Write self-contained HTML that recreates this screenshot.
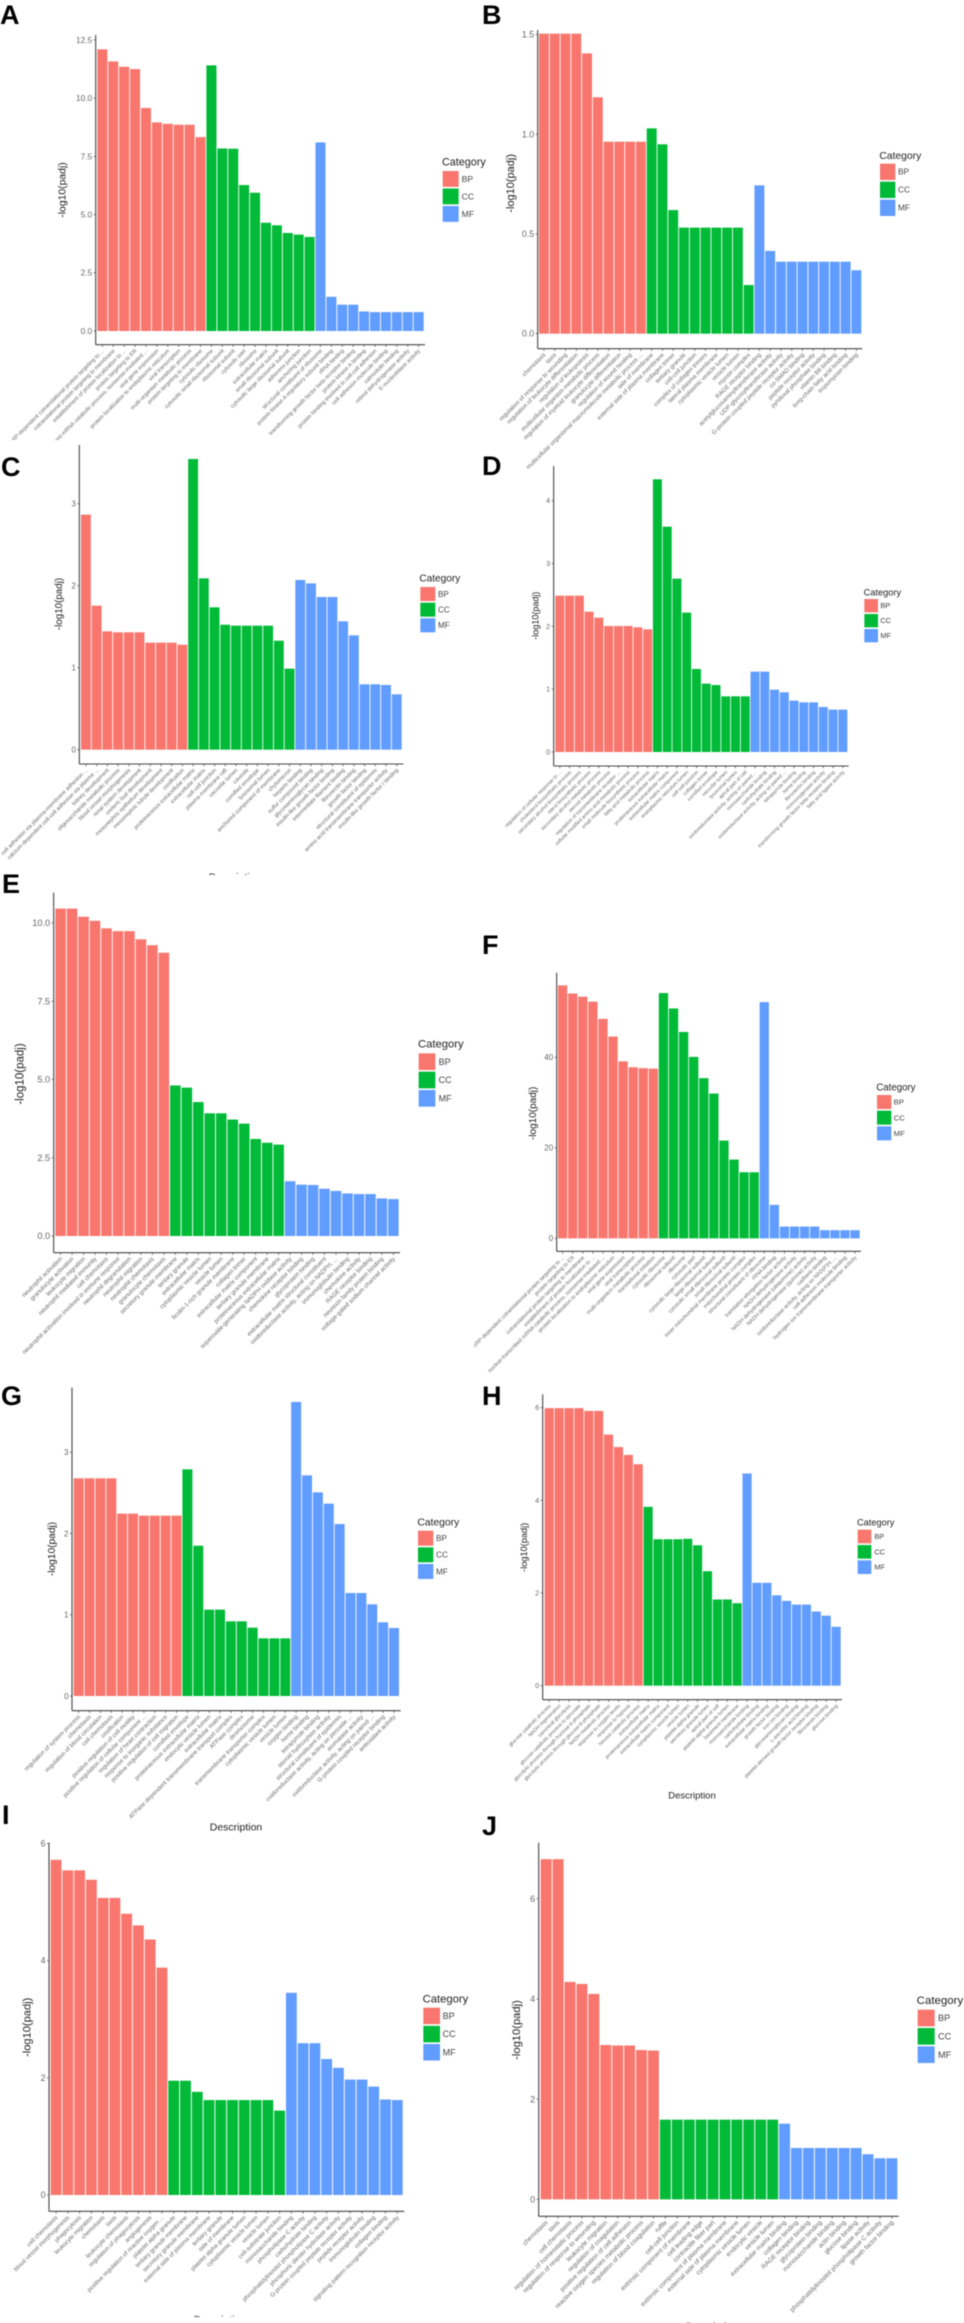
<!DOCTYPE html>
<html lang="en">
<head>
<meta charset="utf-8">
<title>GO enrichment bar charts A–J</title>
<style>
html,body{margin:0;padding:0;background:#fff;}
body{width:964px;height:2323px;overflow:hidden;}
#figure{display:block;filter:blur(0.45px);font-family:"Liberation Sans",sans-serif;}
</style>
</head>
<body>
<svg id="figure" xmlns="http://www.w3.org/2000/svg" width="964" height="2323" viewBox="0 0 964 2323"></svg>
<script>
const seriesNames = ["BP", "CC", "MF"];
const seriesColors = ["#F8766D", "#00BA38", "#619CFF"];

const labelsA = ["SRP-dependent cotranslational protein targeting to ...","cotranslational protein targeting to membrane","establishment of protein localization to ...","protein targeting to ER","nuclear-transcribed mRNA catabolic process, nonsense-mediated ...","viral gene expression","protein localization to endoplasmic reticulum","viral transcription","multi-organism metabolic process","protein targeting to membrane","cytosolic ribosome","cytosolic small ribosomal subunit","ribosomal subunit","cytosolic part","ribosome","extracellular matrix","small ribosomal subunit","cytosolic large ribosomal subunit","adherens junction","anchoring junction","structural constituent of ribosome","protein kinase A regulatory subunit binding","rRNA binding","transforming growth factor beta receptor binding","protein kinase A binding","protein binding involved in cell-cell adhesion","cell adhesion molecule binding","calmodulin binding","retinol dehydrogenase activity","5'-nucleotidase activity"];
const bpA = [12.1,11.58,11.35,11.25,9.58,8.96,8.9,8.86,8.86,8.33];
const ccA = [11.41,7.84,7.83,6.27,5.94,4.65,4.54,4.21,4.14,4.04];
const mfA = [8.1,1.47,1.13,1.13,0.84,0.81,0.81,0.81,0.81,0.81];
const ticksA = ["0.0","2.5","5.0","7.5","10.0","12.5"];

const labelsB = ["chemotaxis","taxis","regulation of response to wounding","regulation of leukocyte differentiation","regulation of leukopoiesis","multicellular organism metabolic process","regulation of myeloid leukocyte differentiation","granulocyte differentiation","regulation of wound healing","multicellular organismal macromolecule metabolic process ...","side of membrane","external side of plasma membrane","collagen trimer","tertiary granule","cell-cell junction","complex of collagen trimers","lateral plasma membrane","cytoplasmic vesicle lumen","vesicle lumen","myosin complex","RAGE receptor binding","acetylglucosaminyltransferase activity","UDP-glycosyltransferase activity","G-protein coupled peptide receptor activity","co-SMAD binding","peptide receptor activity","pyridoxal phosphate binding","vitamin B6 binding","long-chain fatty acid binding","tropomyosin binding"];
const bpB = [1.505,1.505,1.505,1.505,1.406,1.186,0.963,0.963,0.963,0.963];
const ccB = [1.03,0.95,0.62,0.532,0.532,0.532,0.532,0.532,0.532,0.244];
const mfB = [0.744,0.415,0.361,0.361,0.361,0.361,0.361,0.361,0.361,0.318];
const ticksB = ["0.0","0.5","1.0","1.5"];

const labelsC = ["cell adhesion via plasma-membrane adhesion ...","calcium-dependent cell-cell adhesion via plasma ...","kidney development","oligosaccharide metabolic process","blood vessel morphogenesis","renal system development","ureteric bud development","mesonephric epithelium development","mesonephric tubule development","ossification","proteinaceous extracellular matrix","extracellular matrix","cell-cell junction","plasma membrane raft","vacuolar lumen","caveola","cornified envelope","lysosomal lumen","anchored component of membrane","chylomicron","heparin binding","sulfur compound binding","glycosaminoglycan binding","insulin-like growth factor binding","intermediate filament binding","fibronectin binding","growth factor binding","structural constituent of epidermis","amino acid transmembrane transporter activity","insulin-like growth factor I binding"];
const bpC = [2.866,1.756,1.443,1.431,1.431,1.431,1.305,1.305,1.305,1.28];
const ccC = [3.545,2.089,1.736,1.524,1.512,1.512,1.512,1.512,1.329,0.988];
const mfC = [2.069,2.028,1.862,1.862,1.565,1.394,0.797,0.797,0.789,0.675];
const ticksC = ["0","1","2","3"];

const labelsD = ["regulation of cellular response to ...","cholesterol biosynthetic process","secondary alcohol biosynthetic process","sterol biosynthetic process","secondary alcohol metabolic process","steroid metabolic process","regulation of transmembrane receptor ...","cellular modified amino acid metabolic process","small molecule biosynthetic process","fatty acid metabolic process","extracellular matrix","proteinaceous extracellular matrix","extracellular matrix component","endoplasmic reticulum lumen","cell-cell junction","collagen trimer","cornified envelope","vacuolar lumen","lysosomal lumen","apical part of cell","oxidoreductase activity, acting on paired ...","monosaccharide binding","carbohydrate binding","oxidoreductase activity, acting on paired ...","tetrapyrrole binding","heme binding","fibronectin binding","monooxygenase activity","transforming growth factor beta receptor binding","fatty acid ligase activity"];
const bpD = [2.488,2.488,2.488,2.233,2.138,2.005,2.005,2.005,1.984,1.952];
const ccD = [4.34,3.586,2.759,2.218,1.321,1.088,1.066,0.886,0.886,0.886];
const mfD = [1.279,1.279,0.992,0.95,0.817,0.79,0.79,0.716,0.674,0.674];
const ticksD = ["0","1","2","3","4"];

const labelsE = ["neutrophil activation","granulocyte activation","leukocyte migration","neutrophil mediated immunity","cell chemotaxis","neutrophil activation involved in immune response","neutrophil degranulation","neutrophil migration","neutrophil chemotaxis","granulocyte chemotaxis","secretory granule membrane","tertiary granule","extracellular matrix","cytoplasmic vesicle lumen","vesicle lumen","ficolin-1-rich granule membrane","collagen trimer","extracellular matrix component","tertiary granule membrane","proteinaceous extracellular matrix","superoxide-generating NADPH oxidase activity","chemokine receptor binding","glycoprotein binding","extracellular matrix structural constituent","oxidoreductase activity, acting on NADPH, ...","immunoglobulin binding","chemokine activity","RAGE receptor binding","neurexin family protein binding","voltage-gated sodium channel activity"];
const bpE = [10.46,10.46,10.2,10.07,9.83,9.74,9.74,9.48,9.29,9.05];
const ccE = [4.81,4.74,4.28,3.92,3.92,3.72,3.59,3.1,2.98,2.92];
const mfE = [1.75,1.64,1.63,1.51,1.44,1.36,1.34,1.34,1.2,1.18];
const ticksE = ["0.0","2.5","5.0","7.5","10.0"];

const labelsF = ["SRP-dependent cotranslational protein targeting to ...","protein targeting to ER","cotranslational protein targeting to membrane","establishment of protein localization to ...","nuclear-transcribed mRNA catabolic process, nonsense-mediated ...","protein localization to endoplasmic reticulum","viral gene expression","viral transcription","multi-organism metabolic process","translational initiation","cytosolic ribosome","ribosomal subunit","ribosome","cytosolic part","cytosolic large ribosomal subunit","large ribosomal subunit","cytosolic small ribosomal subunit","small ribosomal subunit","inner mitochondrial membrane protein complex","mitochondrial protein complex","structural constituent of ribosome","rRNA binding","translation elongation factor activity","NADH dehydrogenase activity","NADH dehydrogenase (ubiquinone) activity","NADH dehydrogenase (quinone) activity","cadherin binding","oxidoreductase activity, acting on NAD(P)H, ...","cell adhesion molecule binding","hydrogen ion transmembrane transporter activity"];
const bpF = [55.9,54.1,53.4,52.3,48.5,44.6,39.1,37.8,37.6,37.5];
const ccF = [54.2,50.8,45.6,40.1,35.4,32,21.6,17.4,14.6,14.6];
const mfF = [52.2,7.4,2.6,2.6,2.6,2.6,1.8,1.8,1.8,1.8];
const ticksF = ["0","20","40"];

const labelsG = ["regulation of system process","chemotaxis","regulation of blood circulation","cell chemotaxis","ossification","positive regulation of cell motility","positive regulation of cellular component ...","regulation of heart contraction","response to inorganic substance","positive regulation of cell migration","cornified envelope","proteinaceous extracellular matrix","endocytic vesicle lumen","extracellular matrix","ATPase dependent transmembrane transport complex","ATPase complex","desmosome","transmembrane transporter complex","cytoplasmic vesicle lumen","vesicle lumen","oxygen binding","heme binding","tetrapyrrole binding","steroid hydroxylase activity","structural constituent of epidermis","oxidoreductase activity, acting on peroxide ...","aromatase activity","oxidoreductase activity, acting on paired ...","G-protein coupled receptor binding","antioxidant activity"];
const bpG = [2.68,2.68,2.68,2.68,2.245,2.245,2.22,2.22,2.22,2.22];
const ccG = [2.79,1.85,1.063,1.063,0.919,0.919,0.841,0.71,0.71,0.71];
const mfG = [3.62,2.716,2.507,2.368,2.117,1.268,1.268,1.128,0.907,0.837];
const ticksG = ["0","1","2","3"];

const labelsH = ["glucose catabolic process","NADH regeneration","canonical glycolysis","glucose catabolic process to pyruvate","glycolytic process through fructose-6-phosphate","glycolytic process through glucose-6-phosphate","NADH metabolic process","response to oxygen levels","response to hypoxia","hexose catabolic process","extracellular matrix","proteinaceous extracellular matrix","extracellular matrix component","cytoplasmic vesicle lumen","vesicle lumen","platelet alpha granule","secretory granule lumen","apical part of cell","platelet alpha granule lumen","basement membrane","monosaccharide binding","carbohydrate binding","extracellular matrix binding","growth factor binding","iron ion binding","glycosaminoglycan binding","L-ascorbic acid binding","platelet-derived growth factor receptor binding","fibronectin binding","glucose binding"];
const bpH = [5.99,5.99,5.99,5.99,5.93,5.93,5.42,5.15,4.98,4.78];
const ccH = [3.86,3.16,3.16,3.16,3.17,3.03,2.47,1.86,1.86,1.78];
const mfH = [4.58,2.22,2.22,1.95,1.83,1.75,1.75,1.6,1.51,1.27];
const ticksH = ["0","2","4","6"];

const labelsI = ["cell chemotaxis","blood vessel morphogenesis","phagocytosis","leukocyte migration","chemotaxis","taxis","leukocyte chemotaxis","regulation of phagocytosis","angiogenesis","positive regulation of reactive oxygen ...","platelet alpha granule","tertiary granule membrane","secretory granule membrane","external side of plasma membrane","tertiary granule","side of membrane","platelet alpha granule lumen","cytoplasmic vesicle lumen","vesicle lumen","cell-substrate junction","monosaccharide binding","phospholipase C activity","carbohydrate binding","phosphatidylinositol phospholipase C activity","phosphoric diester hydrolase activity","G-protein coupled peptide receptor activity","peptide receptor activity","immunoglobulin binding","collagen binding","signaling pattern recognition receptor activity"];
const bpI = [5.72,5.54,5.54,5.38,5.07,5.07,4.8,4.6,4.36,3.88];
const ccI = [1.95,1.95,1.76,1.62,1.62,1.62,1.62,1.62,1.62,1.44];
const mfI = [3.45,2.59,2.59,2.32,2.17,1.97,1.97,1.85,1.63,1.62];
const ticksI = ["0","2","4","6"];

const labelsJ = ["chemotaxis","taxis","cell chemotaxis","regulation of homeostatic process","regulation of response to wounding","leukocyte migration","regulation of coagulation","positive regulation of cell adhesion","reactive oxygen species metabolic process","regulation of blood coagulation","ruffle","cell-cell junction","extrinsic component of membrane","cell leading edge","contractile fiber part","extrinsic component of plasma membrane","external side of plasma membrane","cytoplasmic vesicle lumen","endocytic vesicle","vesicle lumen","extracellular matrix binding","collagen binding","RAGE receptor binding","glycoprotein binding","monosaccharide binding","actin binding","glucose binding","lipase activity","phosphatidylinositol phospholipase C activity","growth factor binding"];
const bpJ = [6.79,6.79,4.34,4.3,4.1,3.08,3.07,3.07,2.98,2.97];
const ccJ = [1.59,1.59,1.59,1.59,1.59,1.59,1.59,1.59,1.59,1.59];
const mfJ = [1.51,1.025,1.025,1.025,1.025,1.025,1.025,0.9,0.82,0.82];
const ticksJ = ["0","2","4","6"];

/* Layout of each panel. Numbers other than origin/clip are measured at 3x scale from the panel origin. */
const layouts = [
 {id:"A",labels:labelsA,bp:bpA,cc:ccA,mf:mfA,ticks:ticksA,ox:0,oy:0,clip:[12,0,480,440],axX:287,axT:105,axB:1034,axR:1275,zero:993,unit:69.84,barL:292,barR:1271,tx:1326,ty:497,sx:1328,sw:48,sy:513,step:52.5,lx:1385,ytX:185,ytY:570,fs:10.4,xfs:5.6,letter:[0,24]},
 {id:"B",labels:labelsB,bp:bpB,cc:ccB,mf:mfB,ticks:ticksB,ox:482,oy:0,clip:[482,0,482,470],axX:167,axT:90,axB:1046,axR:1141,zero:1001,unit:598,barL:171,barR:1138,tx:1192,ty:477,sx:1194,sw:46,sy:491,step:54,lx:1248,ytX:85,ytY:550,fs:11,xfs:6,letter:[482,24]},
 {id:"C",labels:labelsC,bp:bpC,cc:ccC,mf:mfC,ticks:ticksC,ox:0,oy:440,clip:[0,443,482,432],axX:238,axT:15,axB:972,axR:1210,zero:929,unit:246,barL:243,barR:1205,tx:1258,ty:425,sx:1261,sw:45,sy:441,step:47,lx:1314,ytX:175,ytY:492,fs:9.8,xfs:5.6,letter:[1,476],xt:[705,1322,10.5]},
 {id:"D",labels:labelsD,bp:bpD,cc:ccD,mf:mfD,ticks:ticksD,ox:482,oy:440,clip:[482,462,482,440],axX:215,axT:78,axB:978,axR:1100,zero:936,unit:188.5,barL:220,barR:1096,tx:1145,ty:466,sx:1147,sw:41,sy:477,step:45,lx:1195,ytX:160,ytY:527,fs:9,xfs:5,letter:[482,475]},
 {id:"E",labels:labelsE,bp:bpE,cc:ccE,mf:mfE,ticks:ticksE,ox:0,oy:870,clip:[0,872,476,490],axX:161,axT:68,axB:1148,axR:1200,zero:1098,unit:93.9,barL:166,barR:1196,tx:1254,ty:533,sx:1256,sw:50,sy:550,step:55,lx:1316,ytX:58,ytY:612,fs:11.5,xfs:6.1,letter:[2,893]},
 {id:"F",labels:labelsF,bp:bpF,cc:ccF,mf:mfF,ticks:ticksF,ox:482,oy:870,clip:[474,960,490,416],axX:224,axT:308,axB:1144,axR:1137,zero:1105,unit:13.575,barL:228,barR:1133,tx:1183,ty:661,sx:1185,sw:43,sy:675,step:47,lx:1235,ytX:152,ytY:730,fs:10,xfs:5.4,letter:[482,954]},
 {id:"G",labels:labelsG,bp:bpG,cc:ccG,mf:mfG,ticks:ticksG,ox:0,oy:1360,clip:[0,1370,482,465],axX:216,axT:83,axB:1052,axR:1202,zero:1008,unit:243.7,barL:221,barR:1197,tx:1252,ty:497,sx:1254,sw:46,sy:512,step:50,lx:1308,ytX:155,ytY:567,fs:10.2,xfs:6,letter:[1,1405],xt:[708,1412,10.5]},
 {id:"H",labels:labelsH,bp:bpH,cc:ccH,mf:mfH,ticks:ticksH,ox:482,oy:1360,clip:[482,1370,482,440],axX:182,axT:103,axB:1019,axR:1080,zero:977,unit:139,barL:188,barR:1076,tx:1125,ty:497,sx:1127,sw:41,sy:509,step:46,lx:1177,ytX:125,ytY:562,fs:9.2,xfs:5,letter:[482,1405],xt:[630,1316,9.5]},
 {id:"I",labels:labelsI,bp:bpI,cc:ccI,mf:mfI,ticks:ticksI,ox:0,oy:1810,clip:[0,1835,482,482],axX:147,axT:98,axB:1204,axR:1213,zero:1155,unit:175.8,barL:152,barR:1208,tx:1268,ty:577,sx:1270,sw:50,sy:593,step:54.5,lx:1328,ytX:80,ytY:652,fs:11.1,xfs:6,letter:[2,1824],xt:[660,1539,10.5]},
 {id:"J",labels:labelsJ,bp:bpJ,cc:ccJ,mf:mfJ,ticks:ticksJ,ox:482,oy:1810,clip:[482,1838,482,485],axX:170,axT:98,axB:1219,axR:1250,zero:1168,unit:150.3,barL:176,barR:1246,tx:1304,ty:582,sx:1307,sw:51,sy:599,step:55,lx:1368,ytX:103,ytY:660,fs:11.2,xfs:6.4,letter:[482,1835],xt:[690,1559,10.5]}
];

const NS = "http://www.w3.org/2000/svg";
const root = document.getElementById("figure");

function shape(parent, tag, attrs, text) {
  const el = document.createElementNS(NS, tag);
  for (const k in attrs) el.setAttribute(k, attrs[k]);
  if (text !== undefined) el.textContent = text;
  parent.appendChild(el);
  return el;
}

layouts.forEach(function (p) {
  const X = function (v) { return p.ox + v / 3; };
  const Y = function (v) { return p.oy + v / 3; };
  const yScale = function (value) { return Y(p.zero - value * p.unit); };
  const total = p.labels.length;
  const band = (p.barR - p.barL) / 3 / (total - 0.08);
  const xScale = function (i) { return X(p.barL) + band * i; };
  const barW = band * 0.92;

  const letter = shape(root, "text", {x: p.letter[0], y: p.letter[1], "font-size": 27, "font-weight": 700, fill: "#000"}, p.id);
  
  

  const panel = shape(root, "svg", {x: p.clip[0], y: p.clip[1], width: p.clip[2], height: p.clip[3], viewBox: p.clip.join(" ")});
  
  

  [p.bp, p.cc, p.mf].forEach(function (series, s) {
    series.forEach(function (value, j) {
      const i = s * p.bp.length + j;
      const bar = shape(panel, "rect", {x: xScale(i), y: yScale(value), width: barW, height: yScale(0) - yScale(value), fill: seriesColors[s]});
      
      
    });
  });

  const yAxis = shape(panel, "line", {x1: X(p.axX), x2: X(p.axX), y1: Y(p.axT), y2: Y(p.axB), stroke: "#444", "stroke-width": 1.1});
  
  

  const xAxis = shape(panel, "line", {x1: X(p.axX), x2: X(p.axR), y1: Y(p.axB), y2: Y(p.axB), stroke: "#444", "stroke-width": 1.1});
  
  

  p.ticks.forEach(function (label) {
    const yy = yScale(parseFloat(label));
    const tick = shape(panel, "line", {x1: X(p.axX) - 2, x2: X(p.axX), y1: yy, y2: yy, stroke: "#555", "stroke-width": 0.8});
    
    
    const tl = shape(panel, "text", {x: X(p.axX) - 3.5, y: yy, dy: "0.35em", "text-anchor": "end", "font-size": p.fs * 0.8, fill: "#666"}, label);
    
    
  });

  p.labels.forEach(function (label, i) {
    const cx = xScale(i) + barW / 2;
    const tick = shape(panel, "line", {x1: cx, x2: cx, y1: Y(p.axB), y2: Y(p.axB) + 2.2, stroke: "#555", "stroke-width": 0.8});
    
    
    const ax = cx + 2;
    const ay = Y(p.axB) + 6.5;
    const tl = shape(panel, "text", {x: ax, y: ay, "text-anchor": "end", "font-size": p.xfs, fill: "#6a6a6a", transform: "rotate(-45 " + ax + " " + ay + ")"}, label);
    
    
  });

  const yTitle = shape(panel, "text", {x: X(p.ytX), y: Y(p.ytY), "text-anchor": "middle", dy: "0.35em", "font-size": p.fs, fill: "#222", transform: "rotate(-90 " + X(p.ytX) + " " + Y(p.ytY) + ")"}, "-log10(padj)");
  
  

  if (p.xt) {
    const xTitle = shape(panel, "text", {x: X(p.xt[0]), y: Y(p.xt[1]), "text-anchor": "middle", "font-size": p.xt[2], fill: "#222"}, "Description");
    
    
  }

  const legendTitle = shape(panel, "text", {x: X(p.tx), y: Y(p.ty), "font-size": p.sw * 0.225, fill: "#222"}, "Category");
  
  

  seriesNames.forEach(function (name, s) {
    const sy = Y(p.sy + p.step * s);
    const swatch = shape(panel, "rect", {x: X(p.sx), y: sy, width: p.sw / 3, height: (p.step - 5) / 3, fill: seriesColors[s]});
    
    
    const entry = shape(panel, "text", {x: X(p.lx), y: sy + (p.step - 5) / 6, dy: "0.35em", "font-size": p.sw * 0.18, fill: "#444"}, name);
    
    
  });
});
</script>
</body>
</html>
